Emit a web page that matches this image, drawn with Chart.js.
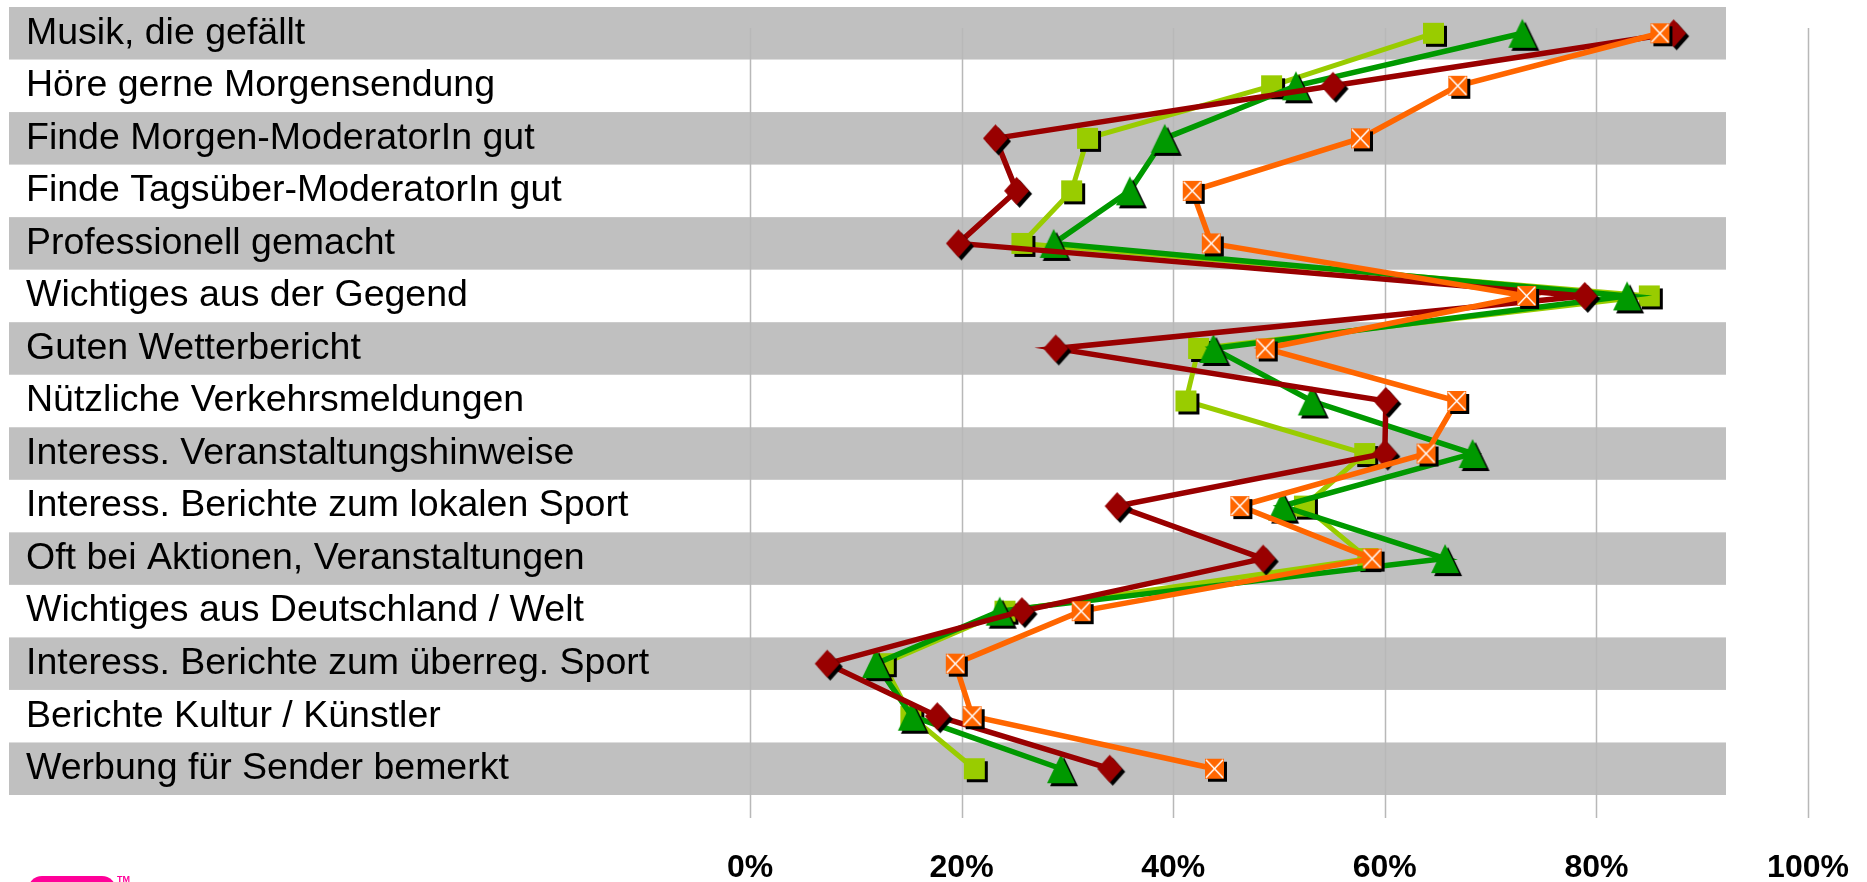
<!DOCTYPE html>
<html>
<head>
<meta charset="utf-8">
<script src="https://cdn.jsdelivr.net/npm/chart.js@4"></script>
<style>
  body { margin: 0; background: #fff; }
  .chart-box { width: 1867px; height: 882px; }
</style>
</head>
<body>
<div class="chart-box"><canvas id="myChart"></canvas></div>
<script>

// ===============================================================================================
// data
// ===============================================================================================

const categories = [
  'Musik, die gefällt',
  'Höre gerne Morgensendung',
  'Finde Morgen-ModeratorIn gut',
  'Finde Tagsüber-ModeratorIn gut',
  'Professionell gemacht',
  'Wichtiges aus der Gegend',
  'Guten Wetterbericht',
  'Nützliche Verkehrsmeldungen',
  'Interess. Veranstaltungshinweise',
  'Interess. Berichte zum lokalen Sport',
  'Oft bei Aktionen, Veranstaltungen',
  'Wichtiges aus Deutschland / Welt',
  'Interess. Berichte zum überreg. Sport',
  'Berichte Kultur / Künstler',
  'Werbung für Sender bemerkt'
];

const orangeValues = [86.0, 66.9, 57.7, 41.8, 43.6, 73.4, 48.7, 66.8, 63.9, 46.3, 58.8, 31.3, 19.4, 21.0, 43.9];
const redValues    = [87.3, 55.1, 23.2, 25.2, 19.7, 78.9, 28.9, 60.1, 60.0, 34.7, 48.5, 25.7, 7.3, 17.7, 34.0];
const greenValues  = [73.0, 51.6, 39.2, 35.9, 28.7, 82.9, 43.8, 53.1, 68.3, 50.3, 65.7, 23.6, 11.9, 15.3, 29.4];
const limeValues   = [64.6, 49.3, 31.9, 30.4, 25.7, 85.0, 42.4, 41.2, 58.1, 52.4, 58.4, 24.1, 12.6, 15.2, 21.2];

const tickValues = [0, 20, 40, 60, 80, 100];

// ===============================================================================================
// marker pictures (with the black drop shadow)
// ===============================================================================================

const shadow = 3;

function makeMarker(shape, color, w, h) {
  const c = document.createElement('canvas');
  c.width = w + shadow * 2 + 2;
  c.height = h + shadow * 2 + 2;
  const ctx = c.getContext('2d');
  const cx = c.width / 2;
  const cy = c.height / 2;

  function path(ox, oy) {
    ctx.beginPath();
    if (shape === 'diamond') {
      ctx.moveTo(cx + ox, cy + oy - h / 2);
      ctx.lineTo(cx + ox + w / 2, cy + oy);
      ctx.lineTo(cx + ox, cy + oy + h / 2);
      ctx.lineTo(cx + ox - w / 2, cy + oy);
    } else if (shape === 'triangle') {
      ctx.moveTo(cx + ox, cy + oy - h / 2);
      ctx.lineTo(cx + ox + w / 2, cy + oy + h / 2);
      ctx.lineTo(cx + ox - w / 2, cy + oy + h / 2);
    } else {
      ctx.rect(cx + ox - w / 2, cy + oy - h / 2, w, h);
    }
    ctx.closePath();
  }

  ctx.fillStyle = '#000';
  path(shadow, shadow);
  ctx.fill();
  ctx.fillStyle = color;
  path(0, 0);
  ctx.fill();

  if (shape === 'cross') {
    ctx.strokeStyle = '#fff';
    ctx.lineWidth = 1.5;
    ctx.beginPath();
    ctx.moveTo(cx - w / 2 + 1, cy - h / 2 + 1);
    ctx.lineTo(cx + w / 2 - 1, cy + h / 2 - 1);
    ctx.moveTo(cx + w / 2 - 1, cy - h / 2 + 1);
    ctx.lineTo(cx - w / 2 + 1, cy + h / 2 - 1);
    ctx.stroke();
  }
  return c;
}

const orangeMarker = makeMarker('cross', '#FF6600', 19, 20);
const redMarker    = makeMarker('diamond', '#990000', 25, 28);
const greenMarker  = makeMarker('triangle', '#009900', 28, 29);
const limeMarker   = makeMarker('square', '#99CC00', 21, 21);

// ===============================================================================================
// bands, grid lines, logo
// ===============================================================================================

const background = {
  id: 'background',
  beforeDraw(chart) {
    const ctx = chart.ctx;
    const x = chart.scales.x;
    const y = chart.scales.y;
    const half = (y.getPixelForValue(1) - y.getPixelForValue(0)) / 2;

    ctx.save();
    ctx.fillStyle = '#C0C0C0';
    for (let i = 0; i < categories.length; i += 2) {
      const py = y.getPixelForValue(i);
      ctx.fillRect(9, py - half, 1717, half * 2);
    }

    ctx.strokeStyle = '#B8B8B8';
    ctx.lineWidth = 1.5;
    tickValues.forEach(function (v) {
      const px = Math.round(x.getPixelForValue(v)) + 0.5;
      ctx.beginPath();
      ctx.moveTo(px, chart.chartArea.top + 21);
      ctx.lineTo(px, chart.chartArea.bottom + 23);
      ctx.stroke();
    });
    ctx.restore();
  },
  afterDraw(chart) {
    const ctx = chart.ctx;
    ctx.save();
    ctx.fillStyle = '#FF0099';
    ctx.beginPath();
    ctx.roundRect(28, 876, 88, 30, 14);
    ctx.fill();
    ctx.font = 'bold 9px "Liberation Sans", Arial, sans-serif';
    ctx.textBaseline = 'top';
    ctx.fillText('TM', 117, 875);
    ctx.restore();
  }
};

// ===============================================================================================
// chart
// ===============================================================================================

const lineSet = function (values, color, marker, width) {
  return {
    data: values,
    borderColor: color,
    backgroundColor: color,
    borderWidth: width,
    pointStyle: marker,
    pointRadius: 12,
    pointHoverRadius: 12,
    tension: 0,
    fill: false
  };
};

const data = {
  labels: categories,
  datasets: [
    lineSet(orangeValues, '#FF6600', orangeMarker, 5.5),
    lineSet(redValues, '#990000', redMarker, 5.5),
    lineSet(greenValues, '#009900', greenMarker, 5.5),
    lineSet(limeValues, '#99CC00', limeMarker, 5)
  ]
};

const config = {
  type: 'line',
  data: data,
  options: {
    indexAxis: 'y',
    responsive: true,
    maintainAspectRatio: false,
    animation: false,
    layout: { autoPadding: false, padding: { left: 26, top: 7, right: 59, bottom: 0 } },
    plugins: {
      legend: { display: false },
      tooltip: { enabled: false }
    },
    scales: {
      x: {
        type: 'linear',
        min: 0,
        max: 100,
        grid: { display: false, drawTicks: false },
        border: { display: false },
        afterBuildTicks: function (scale) {
          scale.ticks = tickValues.map(v => ({ value: v }));
        },
        afterFit: function (scale) {
          scale.height = 87;
          scale.paddingLeft = 0;
          scale.paddingRight = 0;
        },
        ticks: {
          padding: 54,
          color: '#000',
          font: { family: '"Liberation Sans", Arial, sans-serif', size: 32, weight: 'bold' },
          callback: v => v + '%'
        }
      },
      y: {
        type: 'category',
        offset: true,
        grid: { display: false, drawTicks: false },
        border: { display: false },
        afterFit: function (scale) {
          scale.width = 724;
          scale.paddingTop = 0;
          scale.paddingBottom = 0;
        },
        ticks: {
          crossAlign: 'far',
          padding: 0,
          color: '#000',
          font: { family: '"Liberation Sans", Arial, sans-serif', size: 37.5 }
        }
      }
    }
  },
  plugins: [background]
};

const myChart = new Chart(document.getElementById('myChart'), config);
</script>
</body>
</html>
